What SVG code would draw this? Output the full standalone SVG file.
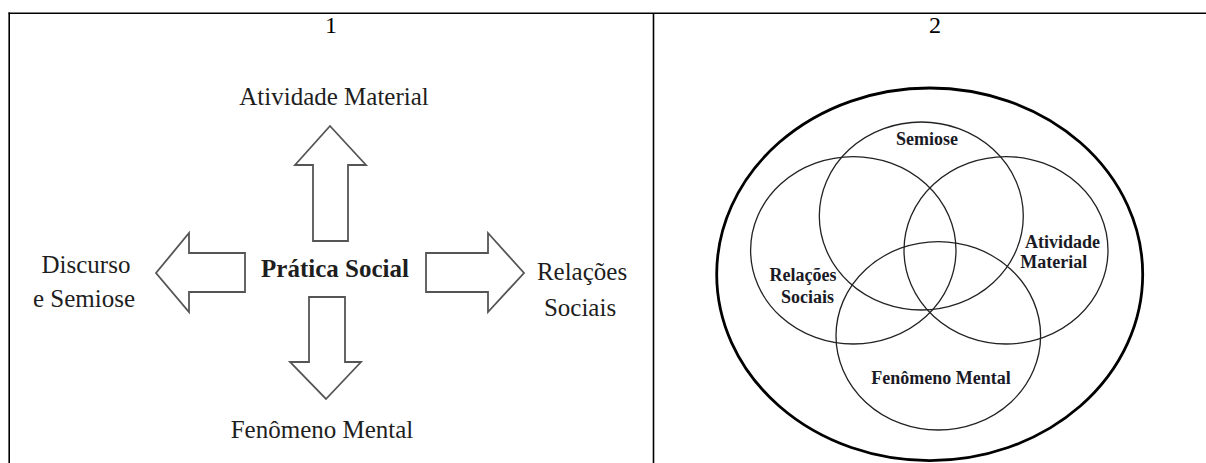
<svg xmlns="http://www.w3.org/2000/svg" width="1206" height="463" viewBox="0 0 1206 463">
  <style>
    .rule { stroke: #000; stroke-width: 1.6; fill: none; }
    .num { font-family: "Liberation Serif", "Times New Roman", serif; font-size: 24px; fill: #000; text-anchor: middle; }
    .lbl { font-family: "Liberation Serif", "Times New Roman", serif; font-size: 25px; fill: #1e1e1e; text-anchor: middle; }
    .lbl-b { font-weight: bold; }
    .block { fill: #fff; stroke: #555; stroke-width: 1.8; stroke-linejoin: miter; }
    .outer { fill: none; stroke: #000; stroke-width: 2.8; }
    .ring { fill: none; stroke: #222; stroke-width: 1.3; }
    .vlbl { font-family: "Liberation Serif", "Times New Roman", serif; font-size: 18px; font-weight: bold; fill: #1a1a26; text-anchor: middle; }
  </style>

  <rect x="0" y="0" width="1206" height="463" fill="#fff"/>

  <!-- table frame -->
  <g id="table">
    <line class="rule" x1="8.5" y1="13.3" x2="1206" y2="13.3"/>
    <line class="rule" x1="9.2" y1="12.5" x2="9.2" y2="463"/>
    <line class="rule" x1="653.5" y1="13.3" x2="653.5" y2="463"/>
    <text class="num" x="331" y="33">1</text>
    <text class="num" x="935" y="33">2</text>
  </g>

  <!-- panel 1: social practice and its four directions -->
  <g id="connectors">
    <polygon class="block" points="313,241 313,165 295,165 330,126 366,165 348,165 348,241"/>
    <polygon class="block" points="245,253 189,253 189,233 156,273 189,312 189,292 245,292"/>
    <polygon class="block" points="426,253 488,253 488,233 524,273 488,312 488,292 426,292"/>
    <polygon class="block" points="309,297 345,297 345,362 361,362 326,399 290,362 309,362"/>
  </g>

  <g id="pratica-social">
    <text class="lbl lbl-b" x="335" y="277">Prática Social</text>
  </g>
  <g id="atividade-material">
    <text class="lbl" x="334" y="105">Atividade Material</text>
  </g>
  <g id="discurso-semiose">
    <text class="lbl" x="86" y="273">Discurso</text>
    <text class="lbl" x="84" y="307">e Semiose</text>
  </g>
  <g id="relacoes-sociais">
    <text class="lbl" x="582" y="280">Relações</text>
    <text class="lbl" x="580" y="316">Sociais</text>
  </g>
  <g id="fenomeno-mental">
    <text class="lbl" x="322" y="438">Fenômeno Mental</text>
  </g>

  <!-- panel 2: overlapping fields inside social practice -->
  <g id="venn-outer">
    <ellipse class="outer" cx="929.7" cy="274.3" rx="213" ry="186.3"/>
  </g>
  <g id="venn-semiose">
    <ellipse class="ring" cx="921.3" cy="216" rx="102" ry="94"/>
    <text class="vlbl" x="927" y="145">Semiose</text>
  </g>
  <g id="venn-relacoes">
    <ellipse class="ring" cx="853.3" cy="250.3" rx="102.7" ry="93.7"/>
    <text class="vlbl" x="803" y="281">Relações</text>
    <text class="vlbl" x="807.5" y="302.5">Sociais</text>
  </g>
  <g id="venn-atividade">
    <ellipse class="ring" cx="1006" cy="250.3" rx="102" ry="93.7"/>
    <text class="vlbl" x="1062.5" y="247.5">Atividade</text>
    <text class="vlbl" x="1053.7" y="268.3">Material</text>
  </g>
  <g id="venn-fenomeno">
    <ellipse class="ring" cx="938.3" cy="335.8" rx="102.3" ry="94.2"/>
    <text class="vlbl" x="941" y="384">Fenômeno Mental</text>
  </g>
</svg>
